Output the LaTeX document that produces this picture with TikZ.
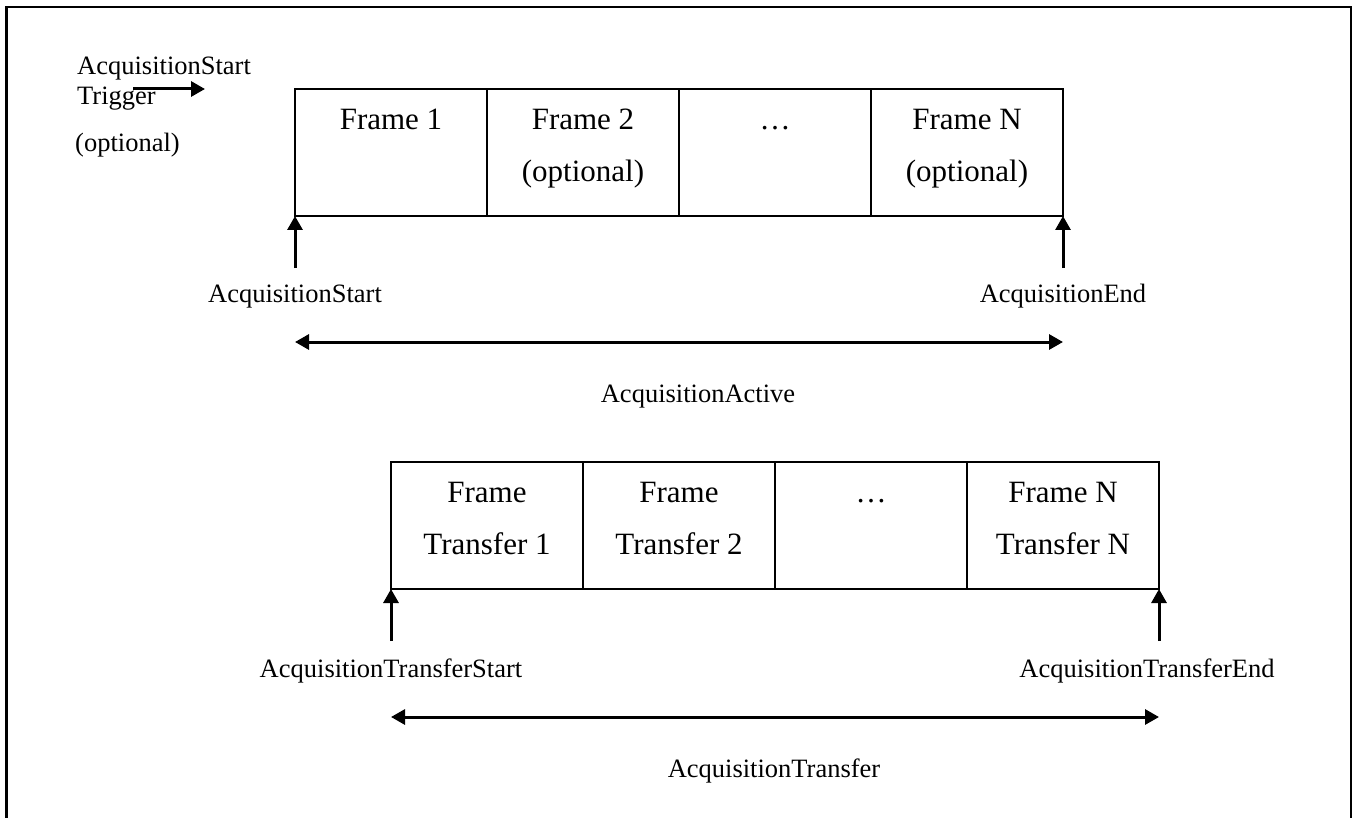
\documentclass[tikz,border=0pt]{standalone}
\usepackage{fontspec}
\setmainfont{Liberation Serif}
\usetikzlibrary{arrows.meta}
\begin{document}
\begin{tikzpicture}[x=1pt,y=-1pt,
  border/.style={line width=2.2pt},
  cell/.style={draw, line width=2.1pt, anchor=north west, minimum width=192pt, minimum height=127pt, inner sep=0pt, outer sep=0pt},
  ftxt/.style={anchor=base, inner sep=0pt, font=\fontsize{31}{36}\selectfont},
  lbl/.style={anchor=base, inner sep=0pt, font=\fontsize{26.5}{30}\selectfont},
  sig/.style={line width=3pt, -{Triangle[length=14pt,width=15pt]}},
  dsig/.style={line width=3pt, {Triangle[length=14pt,width=15pt]}-{Triangle[length=14pt,width=15pt]}}
]
\useasboundingbox (0,0) rectangle (1356,818);
% outer frame (open at the bottom)
\draw[border] (6.5,818) -- (6.5,7) -- (1351,7) -- (1351,818);

% trigger text and arrow
\node[lbl, anchor=base west] (trgA) at (77,75) {AcquisitionStart};
\node[lbl, anchor=base west] (trgB) at (77,105) {Trigger};
\node[lbl, anchor=base west] (trgC) at (75,152) {(optional)};
\coordinate (trgS) at (133,89);
\coordinate (trgE) at (205,89);
\draw[sig] (trgS) -- (trgE);

% acquisition frames
\node[cell] (f1) at (295,89) {};
\node[cell] (f2) at (487,89) {};
\node[cell] (f3) at (679,89) {};
\node[cell] (f4) at (871,89) {};
\node[ftxt] (f1a) at (391,130) {Frame 1};
\node[ftxt] (f2a) at (583,130) {Frame 2};
\node[ftxt] (f2b) at (583,182) {(optional)};
\node[ftxt] (f3a) at (775,130) {…};
\node[ftxt] (f4a) at (967,130) {Frame N};
\node[ftxt] (f4b) at (967,182) {(optional)};

% acquisition start / end
\coordinate (aS) at (295,268);
\coordinate (aE) at (1063,268);
\draw[sig] (aS) -- (f1.south west);
\draw[sig] (aE) -- (f4.south east);
\node[lbl] (lS) at (295,302) {AcquisitionStart};
\node[lbl] (lE) at (1063,302) {AcquisitionEnd};
\coordinate (actL) at (295,342);
\coordinate (actR) at (1063,342);
\draw[dsig] (actL) -- (actR);
\node[lbl] (lAct) at (698,402) {AcquisitionActive};

% transfer frames
\node[cell] (t1) at (391,462) {};
\node[cell] (t2) at (583,462) {};
\node[cell] (t3) at (775,462) {};
\node[cell] (t4) at (967,462) {};
\node[ftxt] (t1a) at (487,502) {Frame};
\node[ftxt] (t1b) at (487,554) {Transfer 1};
\node[ftxt] (t2a) at (679,502) {Frame};
\node[ftxt] (t2b) at (679,554) {Transfer 2};
\node[ftxt] (t3a) at (871,502) {…};
\node[ftxt] (t4a) at (1063,502) {Frame N};
\node[ftxt] (t4b) at (1063,554) {Transfer N};

% transfer start / end
\coordinate (tS) at (391,641);
\coordinate (tE) at (1159,641);
\draw[sig] (tS) -- (t1.south west);
\draw[sig] (tE) -- (t4.south east);
\node[lbl] (ltS) at (391,677) {AcquisitionTransferStart};
\node[lbl] (ltE) at (1147,677) {AcquisitionTransferEnd};
\coordinate (trL) at (391,717);
\coordinate (trR) at (1159,717);
\draw[dsig] (trL) -- (trR);
\node[lbl] (lTr) at (774,777) {AcquisitionTransfer};
\end{tikzpicture}
\end{document}
